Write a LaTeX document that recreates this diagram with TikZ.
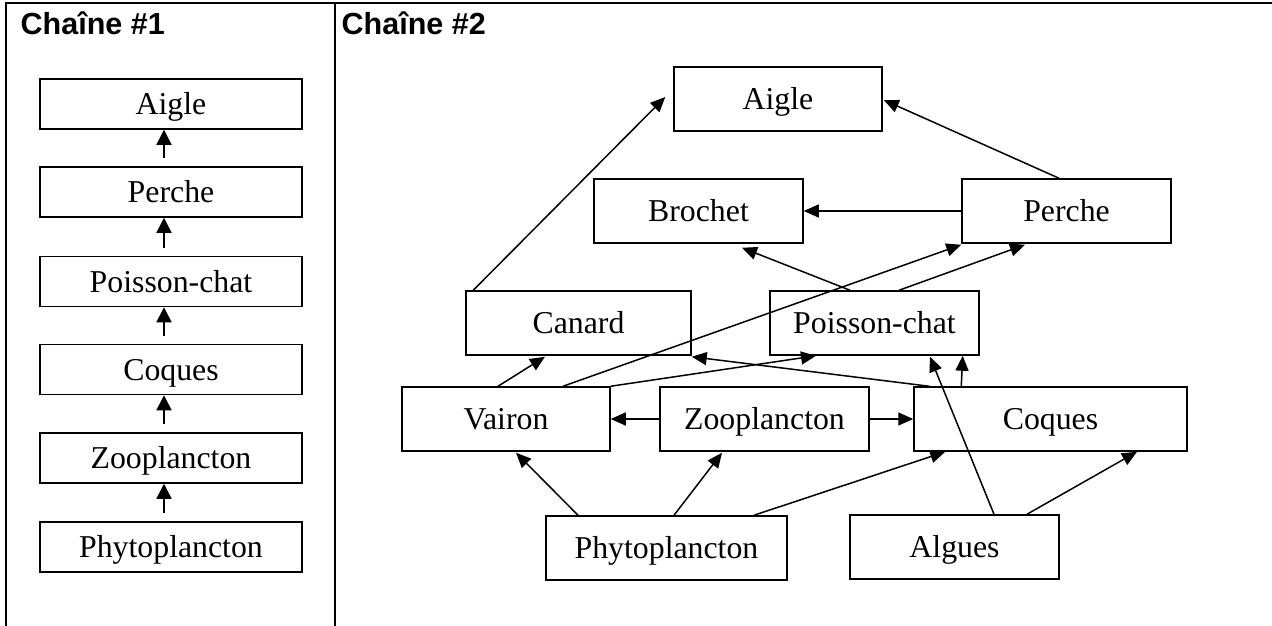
\documentclass[tikz,border=0pt]{standalone}
\usepackage{fontspec}
\setmainfont{Liberation Serif}
\newfontfamily\hdrfont{Liberation Sans}
\usetikzlibrary{arrows.meta}
\begin{document}
\begin{tikzpicture}[x=1pt,y=-1pt,
  box/.style={draw, line width=1.5pt, inner sep=0pt, minimum height=64pt,
    text height=21pt, text depth=0pt, font=\fontsize{31.8}{36}\selectfont},
  lbox/.style={box, minimum width=262pt, minimum height=50pt},
  hdr/.style={anchor=base west, inner sep=0pt, font=\hdrfont\bfseries\fontsize{30.5}{34}\selectfont},
  arr/.style={-{Triangle[length=15pt,width=13pt]}, line width=1.5pt},
  larr/.style={-{Triangle[length=15pt,width=15pt]}, line width=1.5pt}]
\useasboundingbox (0,0) rectangle (1272,626);
% table frame
\draw[line width=2.2pt] (5,3) -- (1272,3);
\draw[line width=1.6pt] (6,3) -- (6,626);
\draw[line width=1.1pt] (335,3) -- (335,626);
% headers
\node[hdr] (h1) at (20.5,35) {Chaîne \#1};
\node[hdr] (h2) at (341.5,35) {Chaîne \#2};
% chain 1
\node[lbox] (la) at (171,104) {Aigle};
\node[lbox] (lb) at (171,192) {Perche};
\node[lbox] (lc) at (171,281.5) {Poisson-chat};
\node[lbox] (ld) at (171,369.5) {Coques};
\node[lbox] (le) at (171,458) {Zooplancton};
\node[lbox] (lf) at (171,547) {Phytoplancton};
\foreach \lo/\up in {lb/la,lc/lb,ld/lc,le/ld,lf/le}{
  \draw[larr, shorten <=8pt] ([xshift=-7pt]\lo.north) -- ([xshift=-7pt]\up.south);
}
% chain 2
\node[box, minimum width=208pt] (aigle) at (778,99) {Aigle};
\node[box, minimum width=209pt] (brochet) at (698.5,211) {Brochet};
\node[box, minimum width=209pt] (perche) at (1066.5,211) {Perche};
\node[box, minimum width=225pt] (canard) at (578.5,323) {Canard};
\node[box, minimum width=209pt] (pchat) at (874.5,323) {Poisson-chat};
\node[box, minimum width=208pt] (vairon) at (506,419) {Vairon};
\node[box, minimum width=209pt] (zoo) at (764.5,419) {Zooplancton};
\node[box, minimum width=273pt] (coques) at (1050.5,419) {Coques};
\node[box, minimum width=241pt] (phyto) at (666.5,548) {Phytoplancton};
\node[box, minimum width=209pt] (algues) at (954.5,547) {Algues};
% connectors
\draw[arr] ([xshift=8pt]canard.north west) -- ([xshift=-8pt,yshift=2pt]aigle.west);
\draw[arr] ([xshift=-7.5pt]perche.north) -- ([xshift=1pt,yshift=-1pt]aigle.east);
\draw[arr] (perche.west) -- (brochet.east);
\draw[arr] ([xshift=-24.5pt]pchat.north) -- ([xshift=43.5pt,yshift=-4pt]brochet.south);
\draw[arr] ([xshift=24.5pt]pchat.north) -- ([xshift=-41.5pt,yshift=-1pt]perche.south);
\draw[arr] ([xshift=57pt]vairon.north) -- ([yshift=-1pt]perche.south west);
\draw[arr] ([xshift=-8pt]vairon.north) -- ([xshift=-33.5pt,yshift=-1pt]canard.south);
\draw[arr] (vairon.north east) -- ([xshift=-58.5pt]pchat.south);
\draw[arr] ([xshift=16pt]coques.north west) -- ([yshift=-1pt]canard.south east);
\draw[arr] ([xshift=48pt]coques.north west) -- ([xshift=-17pt]pchat.south east);
\draw[arr] ([xshift=39.5pt]algues.north) -- ([xshift=55.5pt,yshift=-1pt]pchat.south);
\draw[arr] (zoo.west) -- (vairon.east);
\draw[arr] (zoo.east) -- (coques.west);
\draw[arr] ([xshift=-88.5pt]phyto.north) -- ([xshift=10pt,yshift=-1pt]vairon.south);
\draw[arr] ([xshift=7.5pt]phyto.north) -- ([xshift=-42.5pt,yshift=-1pt]zoo.south);
\draw[arr] ([xshift=87.5pt]phyto.north) -- ([xshift=32pt]coques.south west);
\draw[arr] ([xshift=72.5pt]algues.north) -- ([xshift=86.5pt]coques.south);
\end{tikzpicture}
\end{document}
